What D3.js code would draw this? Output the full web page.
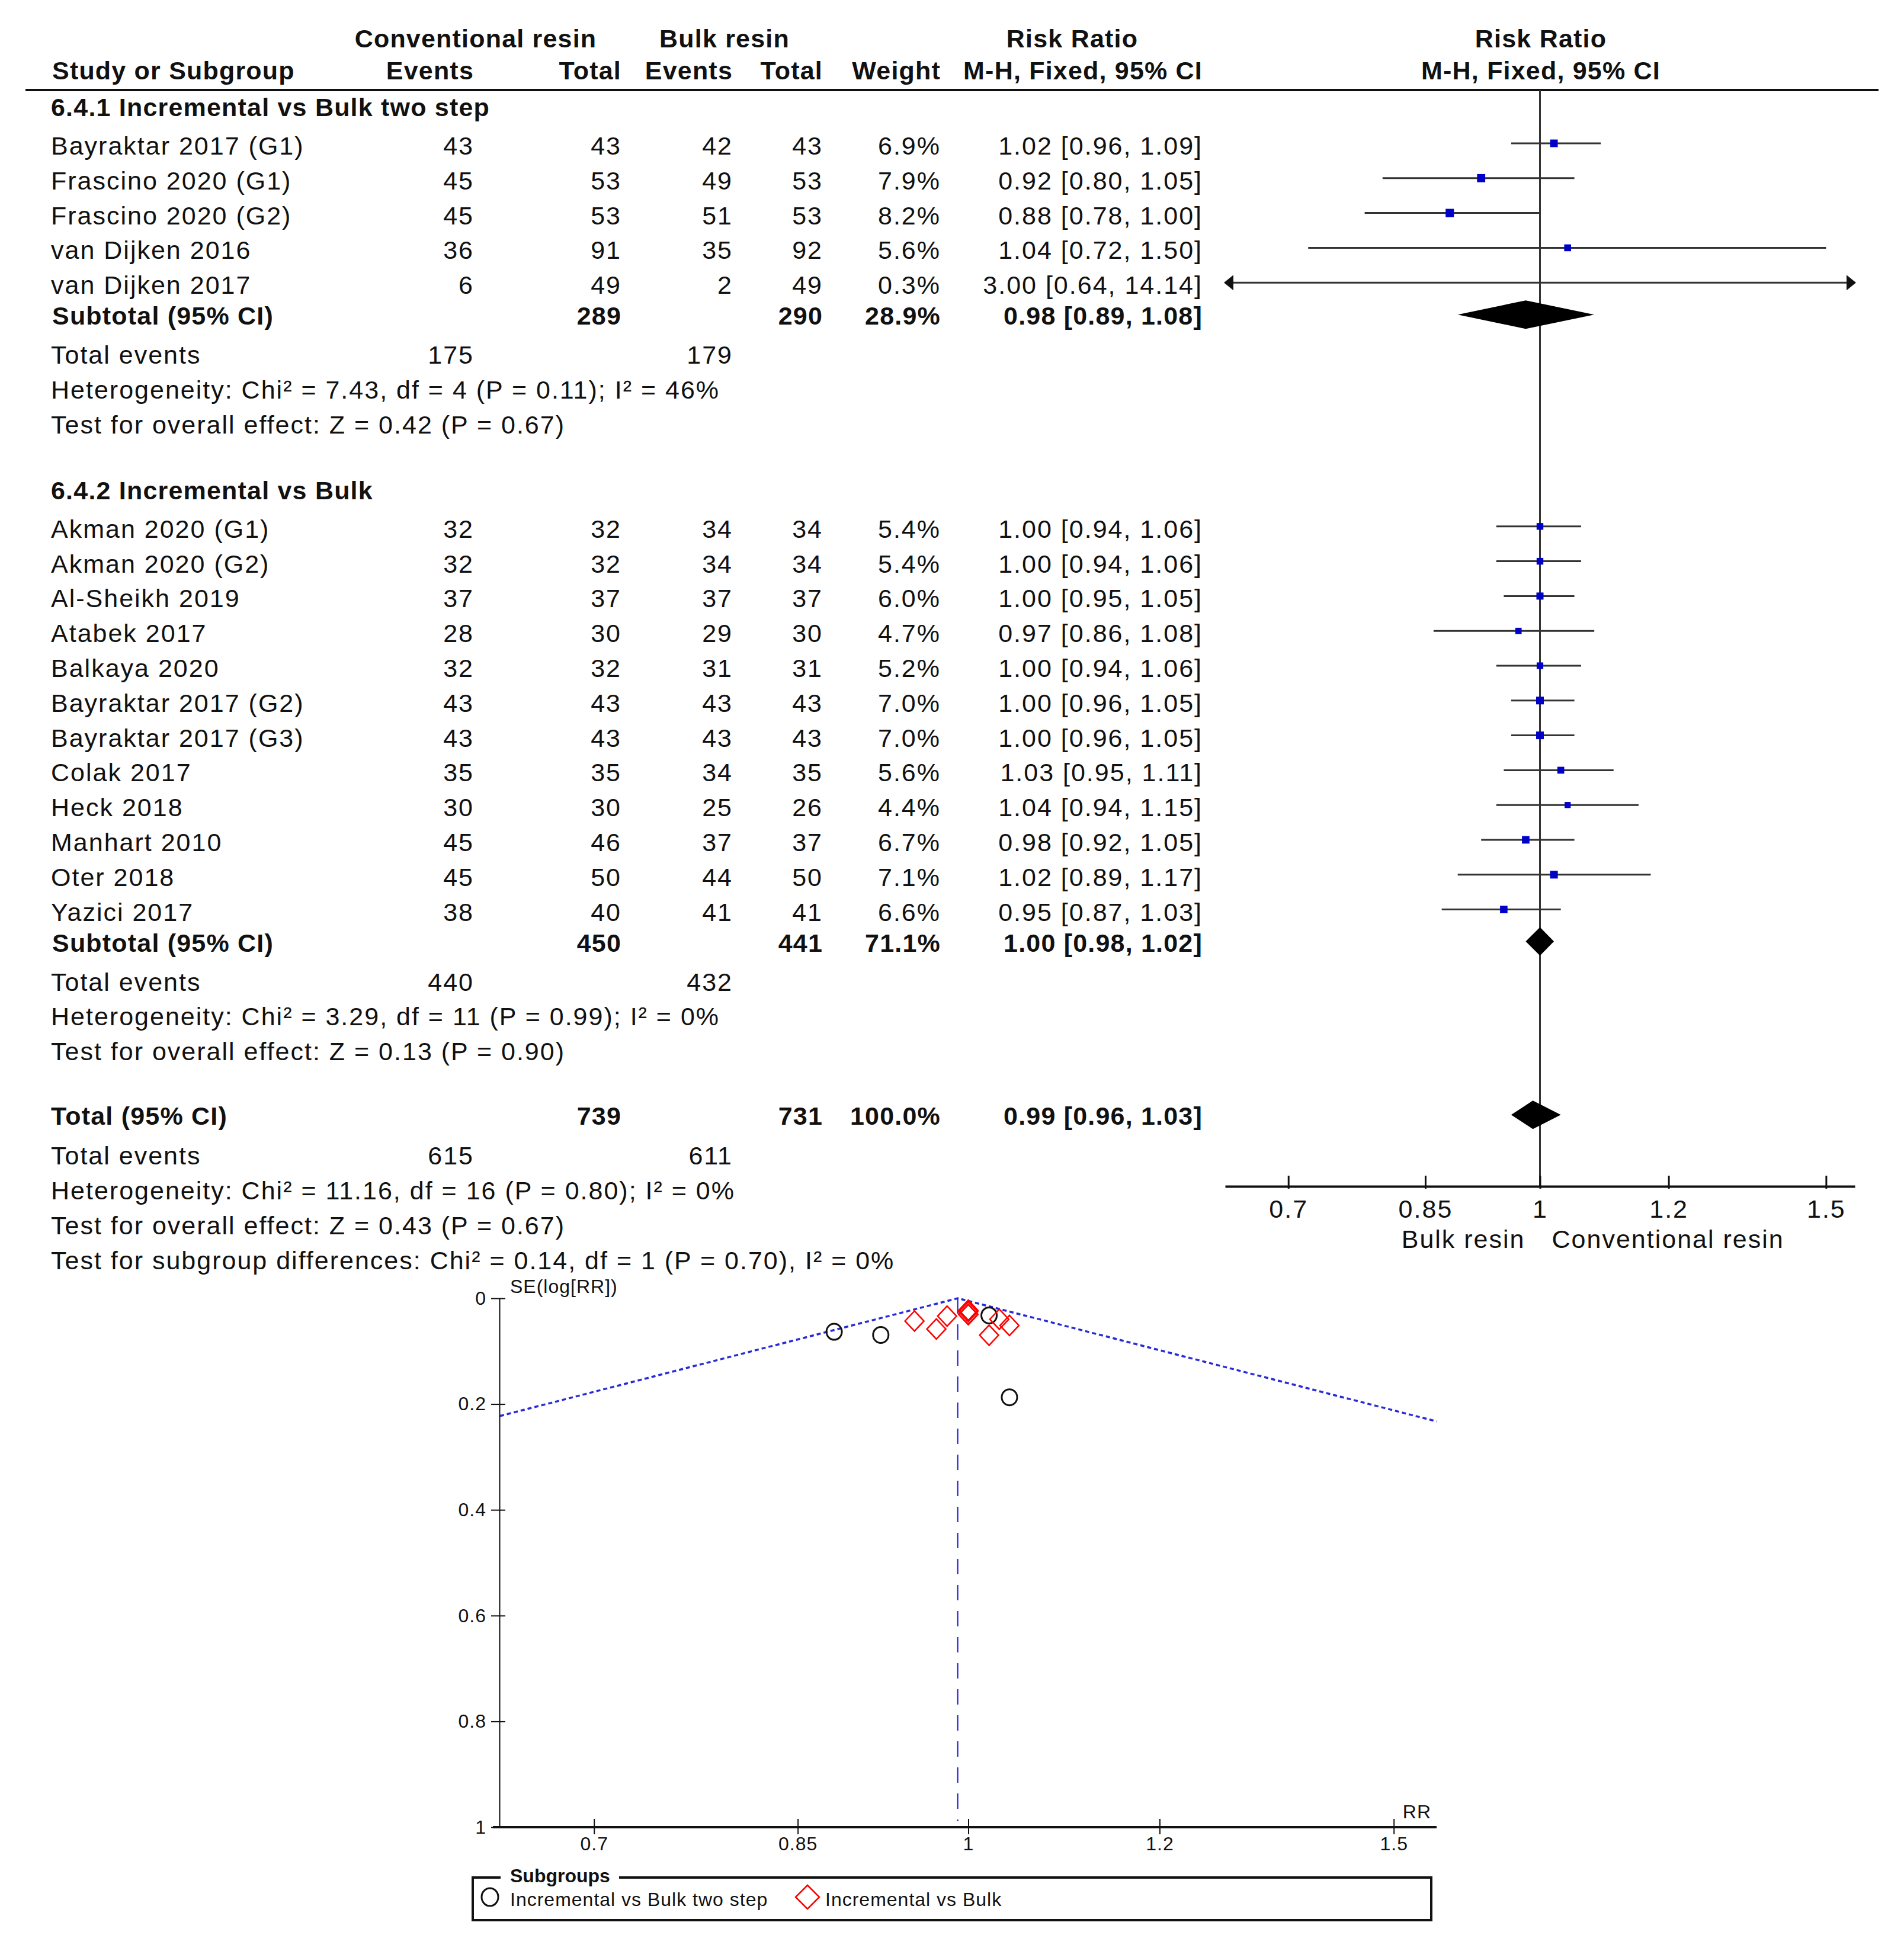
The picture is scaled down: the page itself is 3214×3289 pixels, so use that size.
<!DOCTYPE html>
<html>
<head>
<meta charset="utf-8">
<script src="https://cdnjs.cloudflare.com/ajax/libs/d3/7.8.5/d3.min.js"></script>
<style>
body { margin: 0; background: #fff; }
text { font-family: "Liberation Sans", Arial, sans-serif; fill: #111; }
.big { font-size: 43px; letter-spacing: 2px; }
.bold { font-weight: bold; letter-spacing: 1.2px; }
.small { font-size: 32px; letter-spacing: 1px; }
</style>
</head>
<body>
<script>

// subgroup 6.4.1
var group1Names = ["Bayraktar 2017 (G1)", "Frascino 2020 (G1)", "Frascino 2020 (G2)", "van Dijken 2016", "van Dijken 2017"];
var group1ConvEvents = [43, 45, 45, 36, 6];
var group1ConvTotal = [43, 53, 53, 91, 49];
var group1BulkEvents = [42, 49, 51, 35, 2];
var group1BulkTotal = [43, 53, 53, 92, 49];
var group1Weight = [6.9, 7.9, 8.2, 5.6, 0.3];
var group1RR = [1.02, 0.92, 0.88, 1.04, 3.00];
var group1Lo = [0.96, 0.80, 0.78, 0.72, 0.64];
var group1Hi = [1.09, 1.05, 1.00, 1.50, 14.14];

// subgroup 6.4.2
var group2Names = ["Akman 2020 (G1)", "Akman 2020 (G2)", "Al-Sheikh 2019", "Atabek 2017", "Balkaya 2020",
    "Bayraktar 2017 (G2)", "Bayraktar 2017 (G3)", "Colak 2017", "Heck 2018", "Manhart 2010", "Oter 2018", "Yazici 2017"];
var group2ConvEvents = [32, 32, 37, 28, 32, 43, 43, 35, 30, 45, 45, 38];
var group2ConvTotal = [32, 32, 37, 30, 32, 43, 43, 35, 30, 46, 50, 40];
var group2BulkEvents = [34, 34, 37, 29, 31, 43, 43, 34, 25, 37, 44, 41];
var group2BulkTotal = [34, 34, 37, 30, 31, 43, 43, 35, 26, 37, 50, 41];
var group2Weight = [5.4, 5.4, 6.0, 4.7, 5.2, 7.0, 7.0, 5.6, 4.4, 6.7, 7.1, 6.6];
var group2RR = [1.00, 1.00, 1.00, 0.97, 1.00, 1.00, 1.00, 1.03, 1.04, 0.98, 1.02, 0.95];
var group2Lo = [0.94, 0.94, 0.95, 0.86, 0.94, 0.96, 0.96, 0.95, 0.94, 0.92, 0.89, 0.87];
var group2Hi = [1.06, 1.06, 1.05, 1.08, 1.06, 1.05, 1.05, 1.11, 1.15, 1.05, 1.17, 1.03];

var groupTitles = ["6.4.1 Incremental vs Bulk two step", "6.4.2 Incremental vs Bulk"];
var subtotalConvTotal = [289, 450];
var subtotalBulkTotal = [290, 441];
var subtotalWeight = [28.9, 71.1];
var subtotalRR = [0.98, 1.00];
var subtotalLo = [0.89, 0.98];
var subtotalHi = [1.08, 1.02];
var subtotalConvEvents = [175, 440];
var subtotalBulkEvents = [179, 432];
var subtotalHet = ["Heterogeneity: Chi\u00b2 = 7.43, df = 4 (P = 0.11); I\u00b2 = 46%",
    "Heterogeneity: Chi\u00b2 = 3.29, df = 11 (P = 0.99); I\u00b2 = 0%"];
var subtotalTest = ["Test for overall effect: Z = 0.42 (P = 0.67)",
    "Test for overall effect: Z = 0.13 (P = 0.90)"];

var overallConvTotal = 739;
var overallBulkTotal = 731;
var overallWeight = 100.0;
var overallRR = 0.99, overallLo = 0.96, overallHi = 1.03;
var overallConvEvents = 615, overallBulkEvents = 611;
var overallNotes = ["Heterogeneity: Chi\u00b2 = 11.16, df = 16 (P = 0.80); I\u00b2 = 0%",
    "Test for overall effect: Z = 0.43 (P = 0.67)",
    "Test for subgroup differences: Chi\u00b2 = 0.14, df = 1 (P = 0.70), I\u00b2 = 0%"];

var rrTicks = [0.7, 0.85, 1, 1.2, 1.5];
var seTicks = [0, 0.2, 0.4, 0.6, 0.8, 1];
var favoursLeft = "Bulk resin";
var favoursRight = "Conventional resin";
var legendLabels = ["Incremental vs Bulk two step", "Incremental vs Bulk"];

var W = 3214, H = 3289;
var f2 = d3.format(".2f");
var f1 = d3.format(".1f");

// column right edges
var colConvEv = 800, colConvTot = 1049, colBulkEv = 1237, colBulkTot = 1389, colWeight = 1588, colCI = 2030;
var xLeft = 86;

var svg = d3.select("body").append("svg")
    .attr("width", W)
    .attr("height", H);

svg.append("rect").attr("width", W).attr("height", H).attr("fill", "#fff");

function txt(x, y, s, anchor, cls) {
    return svg.append("text")
        .attr("x", x).attr("y", y)
        .attr("text-anchor", anchor || "start")
        .attr("class", cls || "big")
        .text(s);
}

function ciText(rr, lo, hi) {
    return f2(rr) + " [" + f2(lo) + ", " + f2(hi) + "]";
}

// header
txt(803, 80, "Conventional resin", "middle", "big bold");
txt(1223, 80, "Bulk resin", "middle", "big bold");
txt(1810, 80, "Risk Ratio", "middle", "big bold");
txt(2601, 80, "Risk Ratio", "middle", "big bold");
txt(88, 134, "Study or Subgroup", "start", "big bold");
txt(colConvEv, 134, "Events", "end", "big bold");
txt(colConvTot, 134, "Total", "end", "big bold");
txt(colBulkEv, 134, "Events", "end", "big bold");
txt(colBulkTot, 134, "Total", "end", "big bold");
txt(colWeight, 134, "Weight", "end", "big bold");
txt(colCI, 134, "M-H, Fixed, 95% CI", "end", "big bold");
txt(2601, 134, "M-H, Fixed, 95% CI", "middle", "big bold");

svg.append("line")
    .attr("x1", 43).attr("x2", 3171).attr("y1", 152).attr("y2", 152)
    .attr("stroke", "#111").attr("stroke-width", 4);

// forest scale
var x = d3.scaleLog().domain([0.64, 1.5625]).range([2068, 3131]);
var xMin = x.domain()[0], xMax = x.domain()[1];
var axisY = 2003;

svg.append("line")
    .attr("x1", x(1)).attr("x2", x(1)).attr("y1", 152).attr("y2", axisY)
    .attr("stroke", "#333").attr("stroke-width", 3);

var forest = svg.append("g");

function drawStudy(y, rr, lo, hi, w) {
    var cy = y - 19;
    var a = x(Math.max(lo, xMin)), b = x(Math.min(hi, xMax));
    forest.append("line")
        .attr("x1", a).attr("x2", b).attr("y1", cy).attr("y2", cy)
        .attr("stroke", "#333").attr("stroke-width", 3);
    if (lo <= xMin) {
        forest.append("path")
            .attr("d", "M" + (a - 2) + "," + cy + "l16,-13l0,26z")
            .attr("fill", "#111");
    }
    if (hi >= xMax) {
        forest.append("path")
            .attr("d", "M" + (b + 2) + "," + cy + "l-16,-13l0,26z")
            .attr("fill", "#111");
    }
    if (rr >= xMin && rr <= xMax) {
        var s = 4.9 * Math.sqrt(w);
        forest.append("rect")
            .attr("x", x(rr) - s / 2).attr("y", cy - s / 2)
            .attr("width", s).attr("height", s)
            .attr("fill", "#0000c8");
    }
}

function drawDiamond(y, rr, lo, hi) {
    var cy = y - 17;
    forest.append("path")
        .attr("d", "M" + x(lo) + "," + cy + "L" + x(rr) + "," + (cy - 24) +
            "L" + x(hi) + "," + cy + "L" + x(rr) + "," + (cy + 24) + "Z")
        .attr("fill", "#000");
}

var groups = [
    { names: group1Names, ce: group1ConvEvents, ct: group1ConvTotal, be: group1BulkEvents, bt: group1BulkTotal,
      w: group1Weight, rr: group1RR, lo: group1Lo, hi: group1Hi },
    { names: group2Names, ce: group2ConvEvents, ct: group2ConvTotal, be: group2BulkEvents, bt: group2BulkTotal,
      w: group2Weight, rr: group2RR, lo: group2Lo, hi: group2Hi }
];

var step = 58.8;
var y = 196;
groups.forEach(function(g, gi) {
    txt(xLeft, y, groupTitles[gi], "start", "big bold");
    y += 65;
    g.names.forEach(function(name, i) {
        if (i > 0) y += step;
        txt(xLeft, y, name);
        txt(colConvEv, y, g.ce[i], "end");
        txt(colConvTot, y, g.ct[i], "end");
        txt(colBulkEv, y, g.be[i], "end");
        txt(colBulkTot, y, g.bt[i], "end");
        txt(colWeight, y, f1(g.w[i]) + "%", "end");
        txt(colCI, y, ciText(g.rr[i], g.lo[i], g.hi[i]), "end");
        drawStudy(y, g.rr[i], g.lo[i], g.hi[i], g.w[i]);
    });
    y += 52;
    txt(88, y, "Subtotal (95% CI)", "start", "big bold");
    txt(colConvTot, y, subtotalConvTotal[gi], "end", "big bold");
    txt(colBulkTot, y, subtotalBulkTotal[gi], "end", "big bold");
    txt(colWeight, y, f1(subtotalWeight[gi]) + "%", "end", "big bold");
    txt(colCI, y, ciText(subtotalRR[gi], subtotalLo[gi], subtotalHi[gi]), "end", "big bold");
    drawDiamond(y, subtotalRR[gi], subtotalLo[gi], subtotalHi[gi]);
    y += 66;
    txt(xLeft, y, "Total events");
    txt(colConvEv, y, subtotalConvEvents[gi], "end");
    txt(colBulkEv, y, subtotalBulkEvents[gi], "end");
    y += step;
    txt(xLeft, y, subtotalHet[gi]);
    y += step;
    txt(xLeft, y, subtotalTest[gi]);
    y += 111;
});

// overall
y -= 2;
txt(xLeft, y, "Total (95% CI)", "start", "big bold");
txt(colConvTot, y, overallConvTotal, "end", "big bold");
txt(colBulkTot, y, overallBulkTotal, "end", "big bold");
txt(colWeight, y, f1(overallWeight) + "%", "end", "big bold");
txt(colCI, y, ciText(overallRR, overallLo, overallHi), "end", "big bold");
drawDiamond(y, overallRR, overallLo, overallHi);
y += 67;
txt(xLeft, y, "Total events");
txt(colConvEv, y, overallConvEvents, "end");
txt(colBulkEv, y, overallBulkEvents, "end");
overallNotes.forEach(function(s) {
    y += step;
    txt(xLeft, y, s);
});

// forest axis
var fAxis = svg.append("g")
    .attr("transform", "translate(0," + axisY + ")")
    .call(d3.axisBottom(x).tickValues(rrTicks).tickFormat(d3.format("~g"))
        .tickSizeInner(-16).tickSizeOuter(0).tickPadding(22));
fAxis.select(".domain").attr("stroke", "#111").attr("stroke-width", 4);
fAxis.selectAll(".tick line").attr("stroke", "#111").attr("stroke-width", 3).attr("y1", 4).attr("y2", -18);
fAxis.selectAll(".tick text").attr("class", "big").style("font-size", "43px").attr("fill", "#111");
txt(x(1) - 25, 2107, favoursLeft, "end");
txt(x(1) + 20, 2107, favoursRight, "start");

// funnel plot
var xf = d3.scaleLog().domain([0.64, 1.5625]).range([844, 2425]);
var yf = d3.scaleLinear().domain([0, 1]).range([2192, 3085]);
var funnel = svg.append("g");

var seLeft = (Math.log(overallRR) - Math.log(xf.domain()[0])) / 1.96;
var seRight = (Math.log(xf.domain()[1]) - Math.log(overallRR)) / 1.96;
funnel.append("path")
    .attr("d", "M" + xf(xf.domain()[0]) + "," + yf(seLeft) +
        "L" + xf(overallRR) + "," + yf(0) +
        "L" + xf(xf.domain()[1]) + "," + yf(seRight))
    .attr("fill", "none").attr("stroke", "#2a2ad8").attr("stroke-width", 3.5)
    .attr("stroke-dasharray", "7,5");
funnel.append("line")
    .attr("x1", xf(overallRR)).attr("x2", xf(overallRR)).attr("y1", yf(0)).attr("y2", yf(1) - 10)
    .attr("stroke", "#1a1ad0").attr("stroke-width", 2).attr("stroke-dasharray", "26,18");

var yAx = svg.append("g")
    .attr("transform", "translate(" + 843 + ",0)")
    .call(d3.axisLeft(yf).tickValues(seTicks).tickFormat(d3.format("~g"))
        .tickSizeInner(14).tickSizeOuter(0).tickPadding(8));
yAx.select(".domain").attr("stroke", "#111").attr("stroke-width", 2);
yAx.selectAll(".tick line").attr("stroke", "#111").attr("stroke-width", 2).attr("x2", 10).attr("x1", -14);
yAx.selectAll(".tick text").attr("class", "small").style("font-size", "32px").attr("fill", "#111");

var xAx = svg.append("g")
    .attr("transform", "translate(0," + 3085 + ")")
    .call(d3.axisBottom(xf).tickValues(rrTicks).tickFormat(d3.format("~g"))
        .tickSizeInner(-14).tickSizeOuter(0).tickPadding(16));
xAx.select(".domain").attr("stroke", "#111").attr("stroke-width", 4).attr("d", "M832,0H2425");
xAx.selectAll(".tick line").attr("stroke", "#111").attr("stroke-width", 2).attr("y1", 12).attr("y2", -14);
xAx.selectAll(".tick text").attr("class", "small").style("font-size", "32px").attr("fill", "#111");

txt(861, 2183, "SE(log[RR])", "start", "small");
txt(2416, 3070, "RR", "end", "small");

function seOf(lo, hi) { return (Math.log(hi) - Math.log(lo)) / (2 * 1.96); }
function inPlot(rr, se) { return rr >= xf.domain()[0] && rr <= xf.domain()[1] && se <= 1; }

group1RR.forEach(function(rr, i) {
    var se = seOf(group1Lo[i], group1Hi[i]);
    if (!inPlot(rr, se)) return;
    funnel.append("ellipse")
        .attr("cx", xf(rr)).attr("cy", yf(se)).attr("rx", 13).attr("ry", 13.5)
        .attr("fill", "none").attr("stroke", "#111").attr("stroke-width", 3);
});
group2RR.forEach(function(rr, i) {
    var se = seOf(group2Lo[i], group2Hi[i]);
    if (!inPlot(rr, se)) return;
    funnel.append("path")
        .attr("transform", "translate(" + xf(rr) + "," + yf(se) + ")")
        .attr("d", "M0,-17L16,0L0,17L-16,0Z")
        .attr("fill", "none").attr("stroke", "#ff0000").attr("stroke-width", 2.5);
});

// legend
var lg = svg.append("g");
lg.append("rect")
    .attr("x", 798).attr("y", 3170).attr("width", 2416 - 798).attr("height", 72)
    .attr("fill", "none").attr("stroke", "#111").attr("stroke-width", 4);
lg.append("rect")
    .attr("x", 845).attr("y", 3160).attr("width", 200).attr("height", 20).attr("fill", "#fff");
txt(861, 3178, "Subgroups", "start", "small bold").style("letter-spacing", "0px");
lg.append("ellipse")
    .attr("cx", 827).attr("cy", 3203).attr("rx", 14).attr("ry", 15)
    .attr("fill", "none").attr("stroke", "#111").attr("stroke-width", 3);
txt(861, 3218, legendLabels[0], "start", "small");
lg.append("path")
    .attr("transform", "translate(1363,3203)")
    .attr("d", "M0,-20L20,0L0,20L-20,0Z")
    .attr("fill", "none").attr("stroke", "#ff0000").attr("stroke-width", 2.5);
txt(1393, 3218, legendLabels[1], "start", "small");

</script>
</body>
</html>
